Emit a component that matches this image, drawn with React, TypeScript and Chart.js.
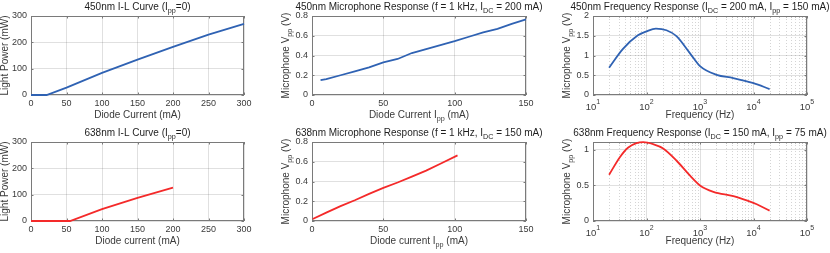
import React, { useEffect, useRef } from 'react';
import { Chart, registerables } from 'chart.js';
Chart.register(...registerables);

const FONT = '"Liberation Sans", Arial, Helvetica, sans-serif';

// ---------- Data ----------
const il450Current = [0, 10, 22, 50, 100, 150, 200, 250, 300];
const il450Power = [0, 0, 0, 28, 84, 134, 183, 229, 270];

const mic450Ipp = [6, 10, 20, 30, 40, 50, 60, 70, 80, 90, 100, 110, 120, 130, 140, 150];
const mic450Vpp = [0.15, 0.16, 0.2, 0.24, 0.28, 0.33, 0.365, 0.425, 0.465, 0.505, 0.545, 0.59, 0.635, 0.67, 0.72, 0.765];

const freq450Hz = [20, 36, 69, 100, 150, 236, 363, 646, 1000, 2040, 4170, 10000, 20000];
const freq450Vpp = [0.69, 1.16, 1.51, 1.61, 1.68, 1.64, 1.49, 1.06, 0.73, 0.51, 0.43, 0.3, 0.15];

const il638Current = [0, 55, 100, 150, 200];
const il638Power = [0, 0, 45, 88, 127];

const mic638Ipp = [0.5, 10, 20, 30, 40, 50, 60, 70, 80, 90, 102];
const mic638Vpp = [0.02, 0.085, 0.15, 0.21, 0.275, 0.335, 0.39, 0.45, 0.51, 0.58, 0.665];

const freq638Hz = [20, 32, 45, 65, 87, 133, 205, 363, 645, 1000, 1780, 4200, 7450, 11500, 20000];
const freq638Vpp = [0.65, 0.9, 1.03, 1.094, 1.108, 1.08, 1.02, 0.85, 0.64, 0.5, 0.41, 0.35, 0.29, 0.235, 0.145];

// ---------- Ticks ----------
const ilXTicks = [0, 50, 100, 150, 200, 250, 300];
const ilYTicks = [0, 100, 200, 300];
const micXTicks = [0, 50, 100, 150];
const micYTicks = [0, 0.2, 0.4, 0.6, 0.8];
const freqExponents = [1, 2, 3, 4, 5];
const freq450YTicks = [0, 0.5, 1, 1.5, 2];
const freq638YTicks = [0, 0.5, 1];

const BLUE = '#2f62b3';
const RED = '#f42a2a';
const TEXT = '#3a3a3a';
const TITLE = '#1e1e1e';
const BOX = '#7a7a7a';
const GRID = 'rgba(38,38,38,0.14)';

type Seg = { t: string; s?: 'sub' | 'sup' };
function rt(str: string): Seg[] {
  const out: Seg[] = [];
  const re = /([_^])\{([^}]*)\}/g;
  let last = 0;
  let m: RegExpExecArray | null;
  while ((m = re.exec(str))) {
    if (m.index > last) out.push({ t: str.slice(last, m.index) });
    out.push({ t: m[2], s: m[1] === '_' ? 'sub' : 'sup' });
    last = m.index + m[0].length;
  }
  if (last < str.length) out.push({ t: str.slice(last) });
  return out;
}
function segFont(size: number, s?: string) {
  return `${s ? size * 0.72 : size}px ${FONT}`;
}
function measureRich(ctx: CanvasRenderingContext2D, segs: Seg[], size: number) {
  let w = 0;
  for (const g of segs) {
    ctx.font = segFont(size, g.s);
    w += ctx.measureText(g.t).width;
  }
  return w;
}
function drawRich(ctx: CanvasRenderingContext2D, segs: Seg[], cx: number, cy: number, size: number, color: string) {
  const w = measureRich(ctx, segs, size);
  let x = cx - w / 2;
  ctx.fillStyle = color;
  ctx.textBaseline = 'middle';
  ctx.textAlign = 'left';
  for (const g of segs) {
    ctx.font = segFont(size, g.s);
    const dy = g.s === 'sub' ? size * 0.38 : g.s === 'sup' ? -size * 0.45 : 0;
    ctx.fillText(g.t, x, cy + dy);
    x += ctx.measureText(g.t).width;
  }
}

interface Panel {
  left: number; top: number; width: number; height: number;
  x0: number; x1: number; y0: number; y1: number;
  title: string; xLabel: string; yLabel: string;
  xs: number[]; ys: number[]; color: string;
  xMin: number; xMax: number; yMin: number; yMax: number;
  xTicks: number[]; yTicks: number[]; logX?: boolean; smooth?: boolean;
}

const COLS = [{ left: 0, width: 277, x0: 31, x1: 244 }, { left: 277, width: 278, x0: 312, x1: 526 }, { left: 555, width: 275, x0: 593, x1: 807 }];
const ROWS = [{ top: 0, height: 126, y0: 16, y1: 95 }, { top: 126, height: 127, y0: 142, y1: 221 }];

const freqXTicks = freqExponents.map((e) => Math.pow(10, e));
const freqMinor: number[] = [];
freqExponents.slice(0, -1).forEach((e) => {
  for (let m = 2; m <= 9; m++) freqMinor.push(m * Math.pow(10, e));
});

const panels: Panel[] = [
  { ...COLS[0], ...ROWS[0], title: '450nm I-L Curve (I_{pp}=0)', xLabel: 'Diode Current (mA)', yLabel: 'Light Power (mW)',
    xs: il450Current, ys: il450Power, color: BLUE, xMin: 0, xMax: 300, yMin: 0, yMax: 300, xTicks: ilXTicks, yTicks: ilYTicks },
  { ...COLS[1], ...ROWS[0], title: '450nm Microphone Response (f = 1 kHz, I_{DC} = 200 mA)', xLabel: 'Diode Current I_{pp} (mA)', yLabel: 'Microphone V_{pp} (V)',
    xs: mic450Ipp, ys: mic450Vpp, color: BLUE, xMin: 0, xMax: 150, yMin: 0, yMax: 0.8, xTicks: micXTicks, yTicks: micYTicks },
  { ...COLS[2], ...ROWS[0], title: '450nm Frequency Response (I_{DC} = 200 mA, I_{pp} = 150 mA)', xLabel: 'Frequency (Hz)', yLabel: 'Microphone V_{pp} (V)',
    xs: freq450Hz, ys: freq450Vpp, color: BLUE, xMin: 10, xMax: 100000, yMin: 0, yMax: 2, xTicks: freqXTicks, yTicks: freq450YTicks, logX: true, smooth: true },
  { ...COLS[0], ...ROWS[1], title: '638nm I-L Curve (I_{pp}=0)', xLabel: 'Diode current (mA)', yLabel: 'Light Power (mW)',
    xs: il638Current, ys: il638Power, color: RED, xMin: 0, xMax: 300, yMin: 0, yMax: 300, xTicks: ilXTicks, yTicks: ilYTicks },
  { ...COLS[1], ...ROWS[1], title: '638nm Microphone Response (f = 1 kHz, I_{DC} = 150 mA)', xLabel: 'Diode current I_{pp} (mA)', yLabel: 'Microphone V_{pp} (V)',
    xs: mic638Ipp, ys: mic638Vpp, color: RED, xMin: 0, xMax: 150, yMin: 0, yMax: 0.8, xTicks: micXTicks, yTicks: micYTicks },
  { ...COLS[2], ...ROWS[1], title: '638nm Frequency Response (I_{DC} = 150 mA, I_{pp} = 75 mA)', xLabel: 'Frequency (Hz)', yLabel: 'Microphone V_{pp} (V)',
    xs: freq638Hz, ys: freq638Vpp, color: RED, xMin: 10, xMax: 100000, yMin: 0, yMax: 1.11, xTicks: freqXTicks, yTicks: freq638YTicks, logX: true, smooth: true },
];

function makePlugin(p: Panel) {
  return {
    id: 'matlabDecor',
    beforeDatasetsDraw(chart: any) {
      const { ctx, chartArea: a, scales } = chart;
      ctx.save();
      if (p.logX) {
        ctx.strokeStyle = 'rgba(38,38,38,0.2)';
        ctx.lineWidth = 1;
        ctx.setLineDash([1, 2]);
        for (const v of freqMinor) {
          const px = Math.round(scales.x.getPixelForValue(v)) + 0.5;
          ctx.beginPath();
          ctx.moveTo(px, a.top);
          ctx.lineTo(px, a.bottom);
          ctx.stroke();
        }
        ctx.setLineDash([]);
      }
      // box
      ctx.strokeStyle = BOX;
      ctx.lineWidth = 1;
      ctx.strokeRect(Math.round(a.left) + 0.5, Math.round(a.top) + 0.5, Math.round(a.right - a.left) - 1, Math.round(a.bottom - a.top) - 1);
      // inner ticks
      ctx.beginPath();
      const tl = 2.5;
      for (const v of p.xTicks) {
        const px = Math.round(scales.x.getPixelForValue(v)) + 0.5;
        ctx.moveTo(px, a.bottom); ctx.lineTo(px, a.bottom - tl);
        ctx.moveTo(px, a.top); ctx.lineTo(px, a.top + tl);
      }
      if (p.logX) {
        for (const v of freqMinor) {
          const px = Math.round(scales.x.getPixelForValue(v)) + 0.5;
          ctx.moveTo(px, a.bottom); ctx.lineTo(px, a.bottom - 1.5);
          ctx.moveTo(px, a.top); ctx.lineTo(px, a.top + 1.5);
        }
      }
      for (const v of p.yTicks) {
        const py = Math.round(scales.y.getPixelForValue(v)) + 0.5;
        ctx.moveTo(a.left, py); ctx.lineTo(a.left + tl, py);
        ctx.moveTo(a.right, py); ctx.lineTo(a.right - tl, py);
      }
      ctx.stroke();
      ctx.restore();
    },
    afterDraw(chart: any) {
      const { ctx, chartArea: a, scales } = chart;
      ctx.save();
      const cx = (a.left + a.right) / 2;
      const cy = (a.top + a.bottom) / 2;
      // log tick labels
      if (p.logX) {
        for (let i = 0; i < p.xTicks.length; i++) {
          const px = scales.x.getPixelForValue(p.xTicks[i]);
          const base = '10';
          const sup = String(freqExponents[i]);
          ctx.font = `9.5px ${FONT}`;
          const wb = ctx.measureText(base).width;
          ctx.font = `7px ${FONT}`;
          const ws = ctx.measureText(sup).width;
          const sx = px - (wb + ws) / 2;
          ctx.fillStyle = TEXT;
          ctx.textAlign = 'left';
          ctx.textBaseline = 'middle';
          ctx.font = `9.5px ${FONT}`;
          ctx.fillText(base, sx, a.bottom + 12);
          ctx.font = `7px ${FONT}`;
          ctx.fillText(sup, sx + wb, a.bottom + 7.5);
        }
      }
      // title
      drawRich(ctx, rt(p.title), cx, a.top - 8.5, 10, TITLE);
      // x label
      drawRich(ctx, rt(p.xLabel), cx, a.bottom + 20.5, 10, TEXT);
      // y label
      ctx.save();
      ctx.translate(a.left - 26, cy);
      ctx.rotate(-Math.PI / 2);
      drawRich(ctx, rt(p.yLabel), 0, 0, 10, TEXT);
      ctx.restore();
      ctx.restore();
    },
  };
}

function PanelChart({ p }: { p: Panel }) {
  const ref = useRef<HTMLCanvasElement | null>(null);
  useEffect(() => {
    if (!ref.current) return;
    const chart = new Chart(ref.current, {
      type: 'line',
      data: {
        datasets: [
          {
            data: p.xs.map((x, i) => ({ x, y: p.ys[i] })),
            borderColor: p.color,
            borderWidth: 1.8,
            pointRadius: 0,
            fill: false,
            clip: false,
            tension: p.smooth ? 0.4 : 0,
            cubicInterpolationMode: p.smooth ? 'monotone' : 'default',
          } as any,
        ],
      },
      options: {
        responsive: false,
        animation: false,
        devicePixelRatio: 1,
        events: [],
        layout: { padding: { left: 0, top: p.y0 - p.top, right: p.left + p.width - p.x1, bottom: 0 } },
        plugins: { legend: { display: false }, tooltip: { enabled: false }, title: { display: false } },
        scales: {
          x: {
            type: p.logX ? 'logarithmic' : 'linear',
            min: p.xMin,
            max: p.xMax,
            afterBuildTicks: (s: any) => { s.ticks = p.xTicks.map((v) => ({ value: v })); },
            afterFit: (s: any) => { s.height = p.top + p.height - p.y1; },
            ticks: {
              display: !p.logX,
              autoSkip: false,
              maxRotation: 0,
              padding: 3,
              color: TEXT,
              font: { family: FONT, size: 9 },
              callback: (v: any) => String(v),
            },
            grid: { color: GRID, lineWidth: 1, drawTicks: false },
            border: { display: false },
          } as any,
          y: {
            type: 'linear',
            min: p.yMin,
            max: p.yMax,
            afterBuildTicks: (s: any) => { s.ticks = p.yTicks.map((v) => ({ value: v })); },
            afterFit: (s: any) => { s.width = p.x0 - p.left; },
            ticks: {
              autoSkip: false,
              padding: 4,
              color: TEXT,
              font: { family: FONT, size: 9 },
              callback: (v: any) => String(v),
            },
            grid: { color: GRID, lineWidth: 1, drawTicks: false },
            border: { display: false },
          } as any,
        },
      },
      plugins: [makePlugin(p) as any],
    });
    return () => chart.destroy();
  }, [p]);
  return (
    <canvas
      ref={ref}
      width={p.width}
      height={p.height}
      style={{ position: 'absolute', left: p.left, top: p.top, width: p.width, height: p.height }}
    />
  );
}

export default function App() {
  return (
    <div style={{ position: 'absolute', left: 0, top: 0, width: 830, height: 253, background: '#fff', overflow: 'hidden' }}>
      {panels.map((p, i) => (
        <PanelChart key={i} p={p} />
      ))}
    </div>
  );
}
